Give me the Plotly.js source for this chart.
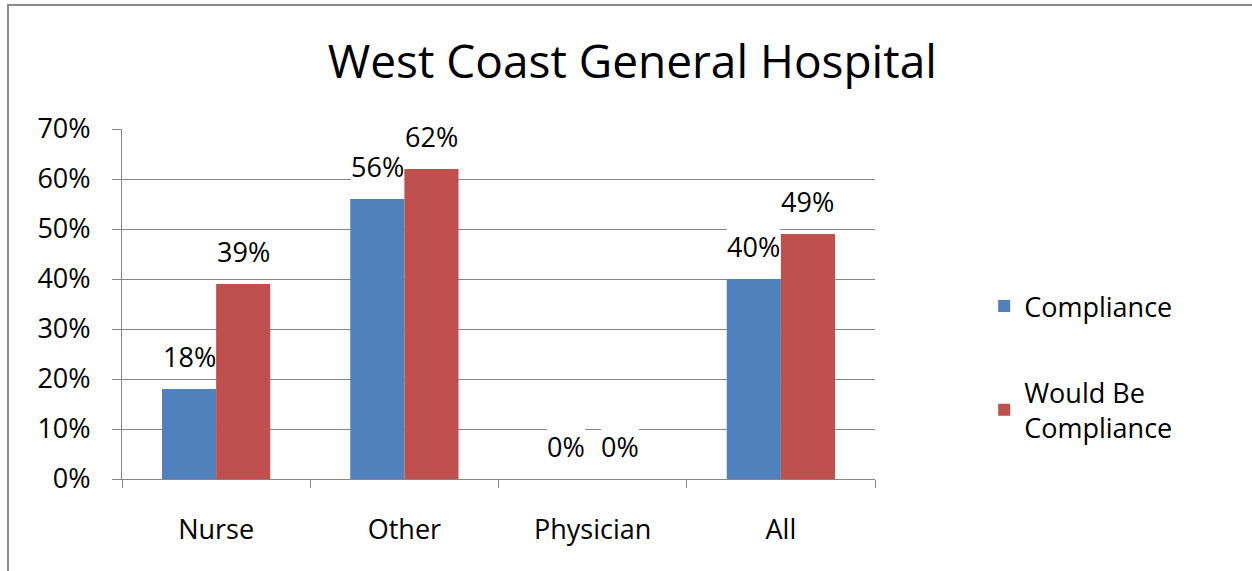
<!DOCTYPE html>
<html>
<head>
<meta charset="utf-8">
<script src="https://cdn.plot.ly/plotly-3.0.1.min.js"></script>
<style>
  html, body { margin: 0; padding: 0; background: #fff; overflow: hidden; }
  #chart { width: 1252px; height: 571px; position: absolute; left: 0; top: 0; }
  #frame { position: absolute; left: 7px; top: 4px; width: 1300px; height: 620px;
           border-left: 2px solid #8c8c8c; border-top: 2px solid #8c8c8c; pointer-events: none; }
</style>
</head>
<body>
<div id="chart"></div>
<div id="frame"></div>
<script>
const categories = ["Nurse", "Other", "Physician", "All"];
const compliance = [18, 56, 0, 40];
const wouldBe = [39, 62, 0, 49];
const seriesNames = ["Compliance", "Would Be<br>Compliance"];
const seriesColors = ["#4F81BD", "#C0504D"];

const FONT = "'Open Sans', Lato, sans-serif";
const FS = 27;
const BARGAP = 0.425;
const offset = (1 - BARGAP) / 4;

const traces = [compliance, wouldBe].map((vals, i) => ({
  type: "bar",
  x: categories,
  y: vals,
  name: seriesNames[i],
  legendgroup: "g" + i,
  marker: { color: seriesColors[i] },
  hoverinfo: "none"
}));

const annotations = [];
[compliance, wouldBe].forEach((vals, s) => {
  vals.forEach((v, i) => {
    annotations.push({
      x: i + (s === 0 ? -offset : offset),
      y: v,
      xref: "x", yref: "y",
      text: v + "%",
      showarrow: false,
      yanchor: "middle",
      yshift: 33,
      bgcolor: "#ffffff",
      borderpad: 0,
      borderwidth: 0,
      font: { family: FONT, size: FS, color: "#000" }
    });
  });
});

const layout = {
  width: 1252, height: 571,
  margin: { l: 122, r: 377, t: 129, b: 92, pad: 0 },
  paper_bgcolor: "#fff",
  plot_bgcolor: "#fff",
  barmode: "group",
  bargap: BARGAP,
  bargroupgap: 0,
  showlegend: true,
  title: {
    text: "West Coast General Hospital",
    font: { family: FONT, size: 46, color: "#000" },
    xref: "container", x: 0.505, xanchor: "center",
    yref: "container", y: 1 - 62 / 571, yanchor: "middle"
  },
  font: { family: FONT, size: FS, color: "#000" },
  xaxis: {
    type: "category",
    showline: true, linecolor: "#868686", linewidth: 1,
    ticks: "outside", tickson: "boundaries", ticklen: 8, tickcolor: "#868686",
    tickfont: { family: FONT, size: FS, color: "#000" },
    ticklabelstandoff: 27,
    showgrid: false, zeroline: false, fixedrange: true
  },
  yaxis: {
    range: [0, 70], dtick: 10, tick0: 0, ticksuffix: "%",
    showline: true, linecolor: "#868686", linewidth: 1,
    ticks: "outside", ticklen: 9, tickcolor: "#868686",
    showgrid: true, gridcolor: "#868686", gridwidth: 1,
    zeroline: false,
    tickfont: { family: FONT, size: FS, color: "#000" },
    ticklabelstandoff: 16,
    fixedrange: true
  },
  legend: {
    x: 1.145, xanchor: "left", y: 0.32, yanchor: "middle",
    traceorder: "grouped", tracegroupgap: 48,
    font: { family: FONT, size: FS, color: "#000" },
    bgcolor: "rgba(0,0,0,0)", itemclick: false, itemdoubleclick: false
  },
  annotations: annotations
};

Plotly.newPlot("chart", traces, layout, { displayModeBar: false, staticPlot: true });
</script>
</body>
</html>
